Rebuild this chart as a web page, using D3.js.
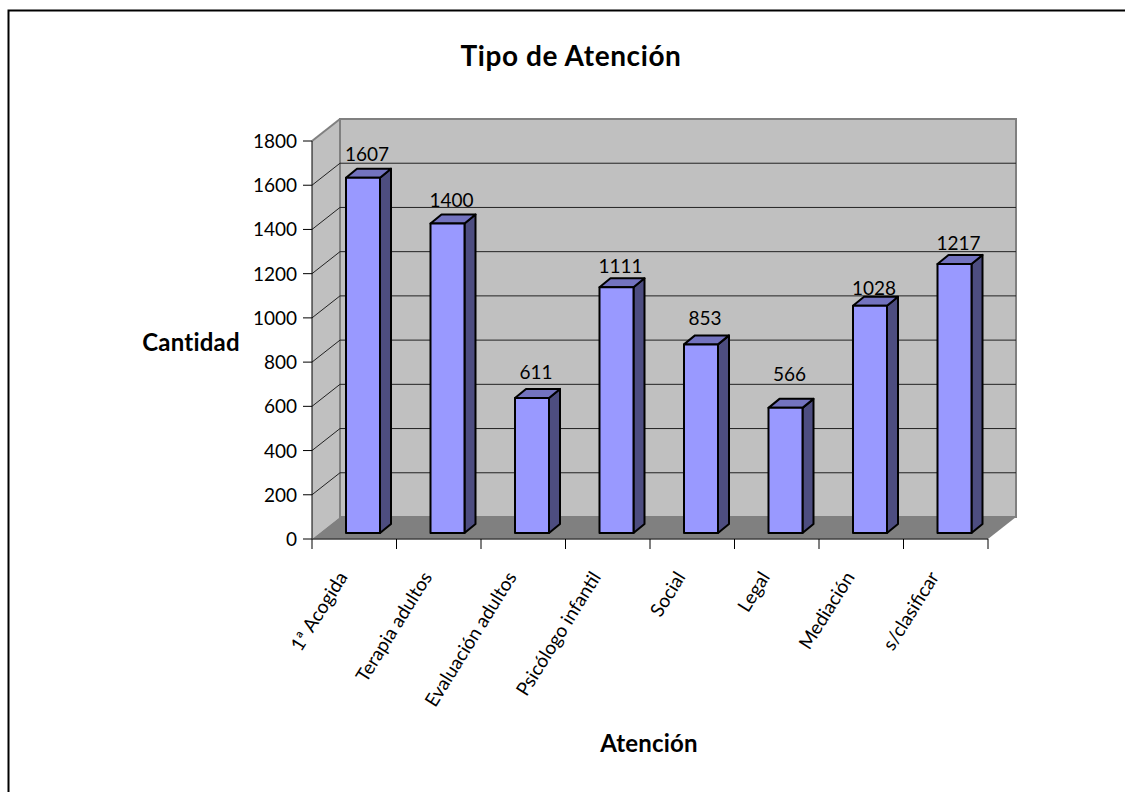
<!DOCTYPE html>
<html>
<head>
<meta charset="utf-8">
<script src="https://cdn.jsdelivr.net/npm/d3@7"></script>
<style>
  html, body { margin: 0; padding: 0; background: #fff; overflow: hidden; }
  text { font-family: Lato, "Open Sans", sans-serif; fill: #000; }
</style>
</head>
<body>
<svg id="chart" width="1125" height="792" style="display:block"></svg>
<script>
const categories = ["1ª Acogida", "Terapia adultos", "Evaluación adultos", "Psicólogo infantil", "Social", "Legal", "Mediación", "s/clasificar"];
const values = [1607, 1400, 611, 1111, 853, 566, 1028, 1217];
const yTicks = [0, 200, 400, 600, 800, 1000, 1200, 1400, 1600, 1800];
// how far each value label sits above its bar (the original placed them by hand)
const labelLift = [17, 16, 19, 14, 19, 27, 11, 14];

const svg = d3.select("#chart");
const depthX = 28, depthY = 22;   // wall offset of the fake 3D box
const barDX = 11, barDY = 9;      // depth of each bar

const x = d3.scaleBand().domain(categories).range([312, 988]);
const y = d3.scaleLinear().domain([0, 1800]).range([539, 141]);
const pts = a => a.map(p => p.join(",")).join(" ");

// outer frame: only the top and left edges are in the picture
svg.append("polyline").attr("points", pts([[8.5, 792], [8.5, 10.5], [1125, 10.5]]))
  .attr("fill", "none").attr("stroke", "#000").attr("stroke-width", 2);

const x0 = x.range()[0], x1 = x.range()[1];
const yB = y(0), yT = y(1800);

// side wall, back wall, floor
svg.append("polygon")
  .attr("points", pts([[x0, yB], [x0 + depthX, yB - depthY], [x0 + depthX, yT - depthY], [x0, yT]]))
  .attr("fill", "#c0c0c0");
svg.append("rect").attr("x", x0 + depthX).attr("y", yT - depthY)
  .attr("width", x1 - x0).attr("height", yB - yT)
  .attr("fill", "#c0c0c0").attr("stroke", "#808080").attr("stroke-width", 2);
svg.append("polygon")
  .attr("points", pts([[x0, yB], [x1, yB], [x1 + depthX, yB - depthY], [x0 + depthX, yB - depthY]]))
  .attr("fill", "#808080");

// gridlines along side wall and back wall
const grid = svg.append("g").attr("fill", "none").attr("stroke", "#222").attr("stroke-width", 1);
yTicks.slice(1, -1).forEach(t => {
  grid.append("polyline")
    .attr("points", pts([[x0, y(t)], [x0 + depthX, y(t) - depthY], [x1 + depthX, y(t) - depthY]]));
});
svg.append("polyline")
  .attr("points", pts([[x0, yT], [x0 + depthX, yT - depthY]]))
  .attr("fill", "none").attr("stroke", "#808080").attr("stroke-width", 2);

// axes
const axes = svg.append("g").attr("stroke", "#000").attr("stroke-width", 1);
axes.append("line").attr("x1", x0).attr("x2", x0).attr("y1", yT).attr("y2", yB);
axes.append("line").attr("x1", x0).attr("x2", x1).attr("y1", yB).attr("y2", yB).attr("stroke", "#404040").attr("stroke-width", 1.5);
yTicks.forEach(t => {
  axes.append("line").attr("x1", x0 - 9).attr("x2", x0).attr("y1", y(t)).attr("y2", y(t));
});
categories.concat([null]).forEach(c => {
  const tx = c === null ? x1 : x(c);
  axes.append("line").attr("x1", tx).attr("x2", tx).attr("y1", yB).attr("y2", yB + 10);
});

svg.append("g").selectAll("text").data(yTicks).join("text")
  .attr("x", x0 - 15).attr("y", d => y(d) + 7)
  .attr("text-anchor", "end").attr("font-size", 19).text(d => d);

// bars
const barW = 34, barOffset = 34, baseLift = 6;
const bars = svg.append("g").selectAll("g").data(categories).join("g")
  .attr("stroke", "#000").attr("stroke-width", 2).attr("stroke-linejoin", "round");
bars.each(function (c, i) {
  const g = d3.select(this);
  const l = x(c) + barOffset, r = l + barW;
  const b = yB - baseLift, t = y(values[i]) - baseLift;
  g.append("polygon").attr("fill", "#4d4d80")
    .attr("points", pts([[r, t], [r + barDX, t - barDY], [r + barDX, b - barDY], [r, b]]));
  g.append("polygon").attr("fill", "#7373bf")
    .attr("points", pts([[l, t], [l + barDX, t - barDY], [r + barDX, t - barDY], [r, t]]));
  g.append("rect").attr("x", l).attr("y", t).attr("width", barW).attr("height", b - t).attr("fill", "#9999ff");
});

// value labels
svg.append("g").selectAll("text").data(values).join("text")
  .attr("x", (d, i) => x(categories[i]) + barOffset + barW / 2 + 4)
  .attr("y", (d, i) => y(d) - baseLift - labelLift[i])
  .attr("text-anchor", "middle").attr("font-size", 19).text(d => d);

// category labels, rotated
svg.append("g").selectAll("text").data(categories).join("text")
  .attr("text-anchor", "end").attr("font-size", 19)
  .attr("transform", c => `translate(${x(c) + x.bandwidth() / 2 - 6},${yB + 38}) rotate(-58)`)
  .text(c => c);

// titles
svg.append("text").attr("x", 571).attr("y", 66).attr("text-anchor", "middle")
  .attr("font-size", 28).attr("letter-spacing", 0.6).attr("font-weight", 700).text("Tipo de Atención");
svg.append("text").attr("x", 191).attr("y", 351).attr("text-anchor", "middle")
  .attr("font-size", 24).attr("letter-spacing", 0.2).attr("font-weight", 700).text("Cantidad");
svg.append("text").attr("x", 649).attr("y", 752).attr("text-anchor", "middle")
  .attr("font-size", 24).attr("letter-spacing", 0.2).attr("font-weight", 700).text("Atención");
</script>
</body>
</html>
